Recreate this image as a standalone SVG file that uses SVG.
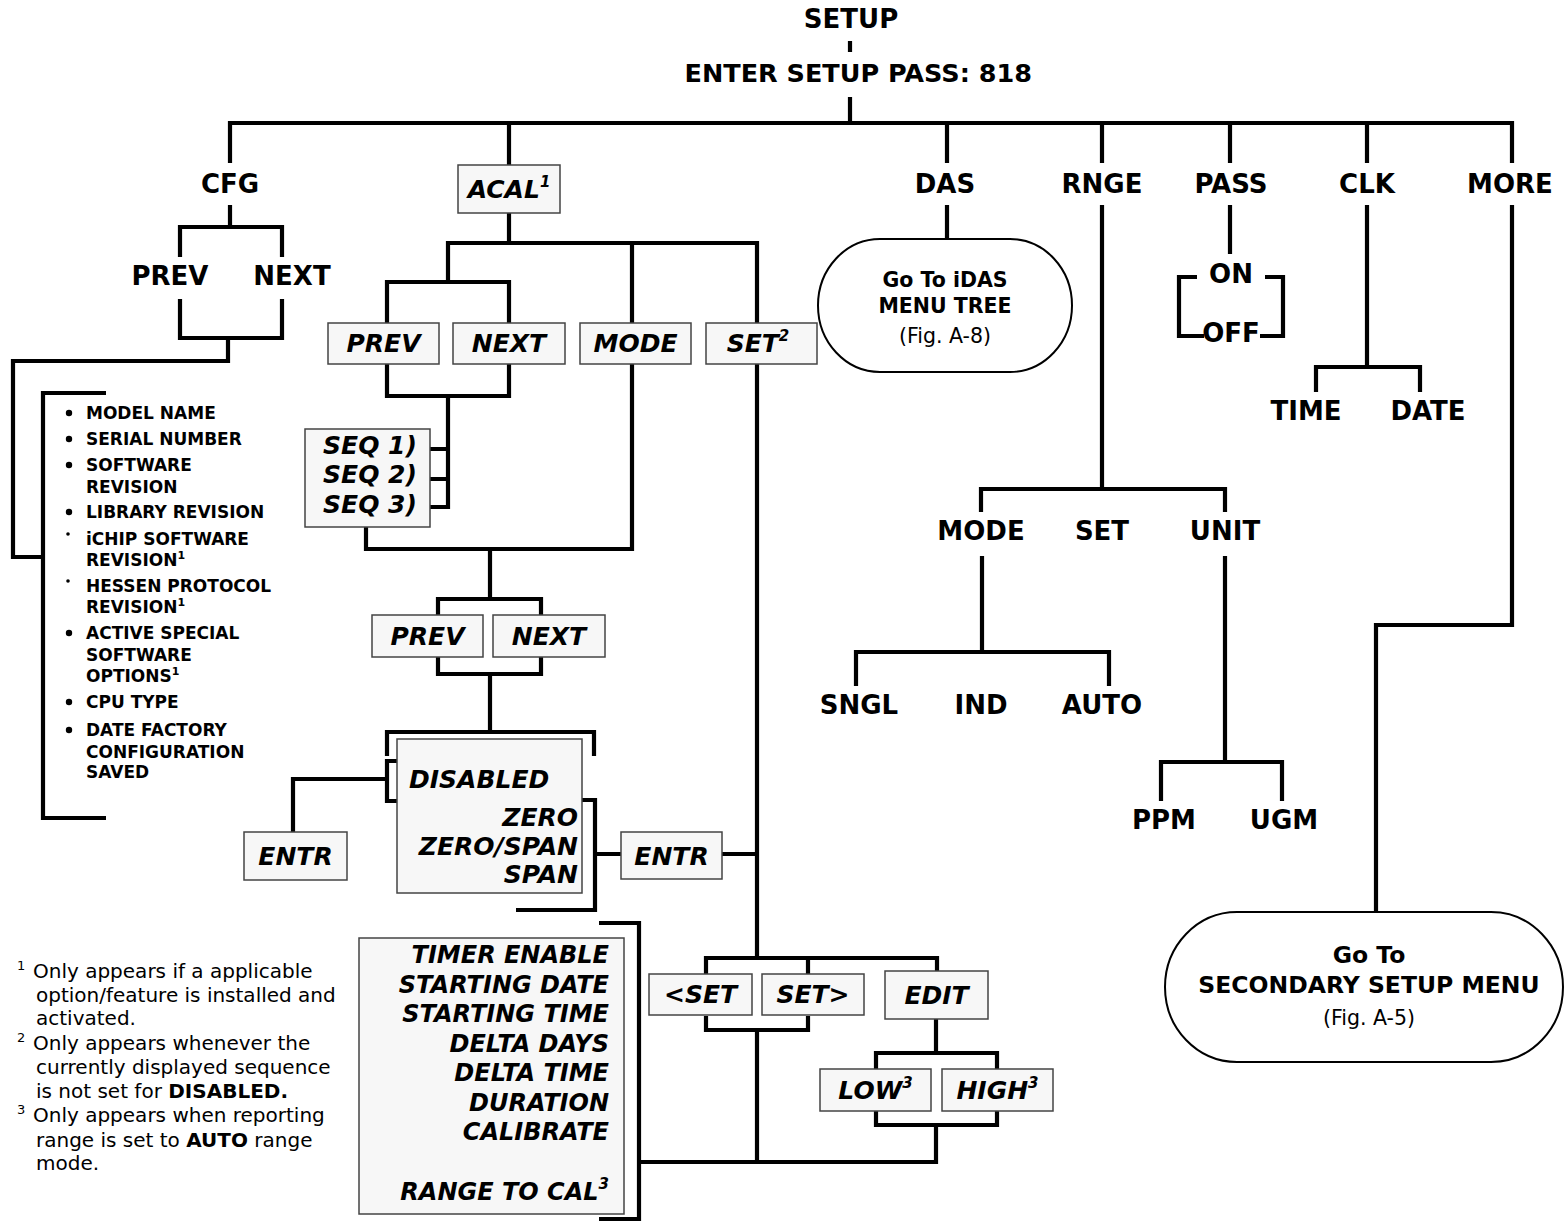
<svg xmlns="http://www.w3.org/2000/svg" width="1564" height="1221" viewBox="0 0 1564 1221">
<style>
.ln{fill:none;stroke:#000;stroke-width:4.2;stroke-linejoin:miter;stroke-linecap:butt}
.box{fill:#f7f7f7;stroke:#444;stroke-width:1.5}
.ov{fill:#fff;stroke:#000;stroke-width:2}
text{font-family:"DejaVu Sans",Verdana,sans-serif;fill:#000}
.lb{font-weight:bold;font-size:26px;text-anchor:middle}
.bx{font-weight:bold;font-style:italic;font-size:25px;text-anchor:middle}
.bxr{font-weight:bold;font-style:italic;font-size:24px;text-anchor:end}
.ls{font-weight:bold;font-size:17px}
.fn{font-size:20px}
.otb{font-weight:bold;font-size:20.5px;text-anchor:middle}
.otr{font-size:20.5px;text-anchor:middle}
</style>
<rect width="1564" height="1221" fill="#fff"/>
<g id="connectors" class="ln">
<path d="M850 41V52M850 97V123"/>
<path d="M230 163V123H1512V163M509 123V165M947 123V163M1102 123V163M1230 123V163M1367 123V163"/>
<path d="M230 205V227M180 257V227H282V257M180 299V338H282V299M228 338V361H13V557H43M106 393H43V818H106"/>
<path d="M509 213V243M448 282V243H757V323M632 243V323M387 323V282H509V323M387 364V396H509V364M448 396V507H430M430 449H448M430 479H448"/>
<path d="M366 527V549H632V364M490 549V599M438 615V599H541V615M438 657V674H541V657M490 674V732M387 756V732H594V756"/>
<path d="M431 761H387V801H431M387 779H293V832"/>
<path d="M516 800H595V910H516M595 854H621M722 854H757M757 364V958"/>
<path d="M599 923H639V1221M599 1219H639M639 1162H936V1125"/>
<path d="M706 974V958H937V971M808 958V974M706 1016V1030H808V1016M757 1030V1162"/>
<path d="M936 1019V1053M876 1069V1053H997V1069M876 1111V1125H997V1111"/>
<path d="M947 205V239M1102 205V489M981 512V489H1225V512M982 556V652M856 686V652H1109V686M1225 556V762M1161 801V762H1282V801"/>
<path d="M1230 205V254M1197 277H1179V336H1204M1265 277H1283V336H1260"/>
<path d="M1367 205V367M1316 392V367H1420V392M1512 205V625H1376V912"/>
</g>
<g id="setup"><text class="lb" x="851" y="28">SETUP</text></g>
<g id="pass"><text class="lb" x="1032" y="82" style="text-anchor:end;font-size:25.5px">ENTER SETUP PASS: 818</text></g>
<g id="cfg"><text class="lb" x="230" y="193">CFG</text></g>
<g id="cfg-prev"><text class="lb" x="170" y="285">PREV</text></g>
<g id="cfg-next"><text class="lb" x="292" y="285">NEXT</text></g>
<g id="cfg-list">
<circle cx="69" cy="413" r="3.2"/><circle cx="69" cy="439" r="3.2"/><circle cx="69" cy="465" r="3.2"/><circle cx="69" cy="512" r="3.2"/>
<circle cx="68" cy="534" r="1.8"/><circle cx="68" cy="581" r="1.8"/>
<circle cx="69" cy="633" r="3.2"/><circle cx="69" cy="702" r="3.2"/><circle cx="69" cy="730" r="3.2"/>
<text class="ls" x="86" y="419">MODEL NAME</text>
<text class="ls" x="86" y="445">SERIAL NUMBER</text>
<text class="ls" x="86" y="471">SOFTWARE</text>
<text class="ls" x="86" y="493">REVISION</text>
<text class="ls" x="86" y="518">LIBRARY REVISION</text>
<text class="ls" x="86" y="545">iCHIP SOFTWARE</text>
<text class="ls" x="86" y="566">REVISION<tspan font-size="11" dy="-7">1</tspan></text>
<text class="ls" x="86" y="592">HESSEN PROTOCOL</text>
<text class="ls" x="86" y="613">REVISION<tspan font-size="11" dy="-7">1</tspan></text>
<text class="ls" x="86" y="639">ACTIVE SPECIAL</text>
<text class="ls" x="86" y="661">SOFTWARE</text>
<text class="ls" x="86" y="682">OPTIONS<tspan font-size="11" dy="-7">1</tspan></text>
<text class="ls" x="86" y="708">CPU TYPE</text>
<text class="ls" x="86" y="736">DATE FACTORY</text>
<text class="ls" x="86" y="758">CONFIGURATION</text>
<text class="ls" x="86" y="778">SAVED</text>
</g>
<g id="acal"><rect class="box" x="458" y="165" width="102" height="48"/><text class="bx" x="509" y="198">ACAL<tspan font-size="15" dy="-11">1</tspan></text></g>
<g id="acal-prev"><rect class="box" x="328" y="323" width="111" height="41"/><text class="bx" x="383.5" y="352">PREV</text></g>
<g id="acal-next"><rect class="box" x="453" y="323" width="112" height="41"/><text class="bx" x="509" y="352">NEXT</text></g>
<g id="acal-mode"><rect class="box" x="580" y="323" width="111" height="41"/><text class="bx" x="635.5" y="352">MODE</text></g>
<g id="acal-set"><rect class="box" x="706" y="323" width="111" height="41"/><text class="bx" x="758" y="352">SET<tspan font-size="15" dy="-11">2</tspan></text></g>
<g id="seq"><rect class="box" x="305" y="429" width="125" height="98"/>
<text class="bx" x="370" y="454">SEQ 1)</text><text class="bx" x="370" y="483">SEQ 2)</text><text class="bx" x="370" y="513">SEQ 3)</text></g>
<g id="prev2"><rect class="box" x="372" y="615" width="111" height="42"/><text class="bx" x="427.5" y="645">PREV</text></g>
<g id="next2"><rect class="box" x="493" y="615" width="112" height="42"/><text class="bx" x="549" y="645">NEXT</text></g>
<g id="modes"><rect class="box" x="397" y="739" width="185" height="154"/>
<text class="bx" x="409" y="788" style="text-anchor:start">DISABLED</text>
<text class="bx" x="578" y="826" style="text-anchor:end">ZERO</text>
<text class="bx" x="578" y="855" style="text-anchor:end">ZERO/SPAN</text>
<text class="bx" x="578" y="883" style="text-anchor:end">SPAN</text></g>
<g id="entr1"><rect class="box" x="244" y="832" width="103" height="48"/><text class="bx" x="295.5" y="865">ENTR</text></g>
<g id="entr2"><rect class="box" x="621" y="832" width="101" height="47"/><text class="bx" x="671.5" y="865">ENTR</text></g>
<g id="timer"><rect class="box" x="359" y="938" width="265" height="276"/>
<text class="bxr" x="609" y="963">TIMER ENABLE</text>
<text class="bxr" x="609" y="993">STARTING DATE</text>
<text class="bxr" x="609" y="1022">STARTING TIME</text>
<text class="bxr" x="609" y="1052">DELTA DAYS</text>
<text class="bxr" x="609" y="1081">DELTA TIME</text>
<text class="bxr" x="609" y="1111">DURATION</text>
<text class="bxr" x="609" y="1140">CALIBRATE</text>
<text class="bxr" x="609" y="1200">RANGE TO CAL<tspan font-size="15" dy="-11">3</tspan></text></g>
<g id="setl"><rect class="box" x="649" y="974" width="103" height="41"/><text class="bx" x="700.5" y="1003">&lt;SET</text></g>
<g id="setr"><rect class="box" x="762" y="974" width="102" height="41"/><text class="bx" x="813" y="1003">SET&gt;</text></g>
<g id="edit"><rect class="box" x="885" y="971" width="103" height="48"/><text class="bx" x="936.5" y="1004">EDIT</text></g>
<g id="low"><rect class="box" x="820" y="1069" width="111" height="42"/><text class="bx" x="875.5" y="1099">LOW<tspan font-size="15" dy="-11">3</tspan></text></g>
<g id="high"><rect class="box" x="942" y="1069" width="111" height="42"/><text class="bx" x="997.5" y="1099">HIGH<tspan font-size="15" dy="-11">3</tspan></text></g>
<g id="das"><text class="lb" x="945" y="193">DAS</text></g>
<g id="idas"><rect class="ov" x="818" y="239" width="254" height="133" rx="62" ry="66.5"/>
<text class="otb" x="945" y="287">Go To iDAS</text><text class="otb" x="945" y="313">MENU TREE</text><text class="otr" x="945" y="343">(Fig. A-8)</text></g>
<g id="rnge"><text class="lb" x="1102" y="193">RNGE</text></g>
<g id="pass-n"><text class="lb" x="1231" y="193">PASS</text></g>
<g id="on"><text class="lb" x="1231" y="283">ON</text></g>
<g id="off"><text class="lb" x="1231" y="342">OFF</text></g>
<g id="clk"><text class="lb" x="1367" y="193">CLK</text></g>
<g id="time"><text class="lb" x="1306" y="420">TIME</text></g>
<g id="date"><text class="lb" x="1428" y="420">DATE</text></g>
<g id="more"><text class="lb" x="1510" y="193">MORE</text></g>
<g id="r-mode"><text class="lb" x="981" y="540">MODE</text></g>
<g id="r-set"><text class="lb" x="1102" y="540">SET</text></g>
<g id="r-unit"><text class="lb" x="1225" y="540">UNIT</text></g>
<g id="sngl"><text class="lb" x="859" y="714">SNGL</text></g>
<g id="ind"><text class="lb" x="981" y="714">IND</text></g>
<g id="auto"><text class="lb" x="1102" y="714">AUTO</text></g>
<g id="ppm"><text class="lb" x="1164" y="829">PPM</text></g>
<g id="ugm"><text class="lb" x="1284" y="829">UGM</text></g>
<g id="secondary"><rect class="ov" x="1165" y="912" width="398" height="150" rx="72" ry="75"/>
<text class="otb" x="1369" y="963" style="font-size:23.5px">Go To</text>
<text class="otb" x="1369" y="993" style="font-size:23.5px">SECONDARY SETUP MENU</text>
<text class="otr" x="1369" y="1025">(Fig. A-5)</text></g>
<g id="footnotes">
<text class="fn" x="17" y="978"><tspan font-size="13" dy="-8">1</tspan><tspan x="33" y="978">Only appears if a applicable</tspan></text>
<text class="fn" x="36" y="1002">option/feature is installed and</text>
<text class="fn" x="36" y="1025">activated.</text>
<text class="fn" x="17" y="1050"><tspan font-size="13" dy="-8">2</tspan><tspan x="33" y="1050">Only appears whenever the</tspan></text>
<text class="fn" x="36" y="1074">currently displayed sequence</text>
<text class="fn" x="36" y="1098">is not set for <tspan font-weight="bold">DISABLED.</tspan></text>
<text class="fn" x="17" y="1122"><tspan font-size="13" dy="-8">3</tspan><tspan x="33" y="1122">Only appears when reporting</tspan></text>
<text class="fn" x="36" y="1147">range is set to <tspan font-weight="bold">AUTO</tspan> range</text>
<text class="fn" x="36" y="1170">mode.</text>
</g>
</svg>
